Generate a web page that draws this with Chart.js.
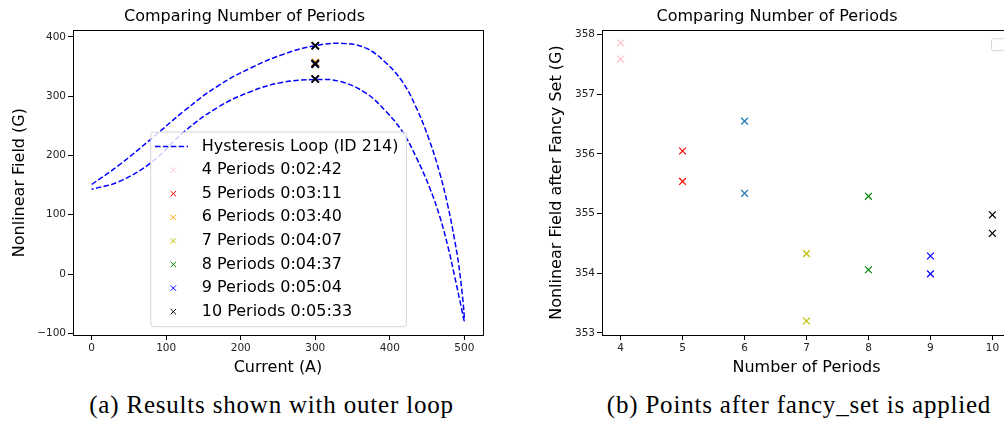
<!DOCTYPE html>
<html>
<head>
<meta charset="utf-8">
<title>Comparing Number of Periods</title>
<script src="https://cdn.jsdelivr.net/npm/chart.js@4.4.1/dist/chart.umd.min.js"></script>
<style>
  html, body { margin: 0; padding: 0; background: #fff; overflow: hidden; }
  body { width: 1004px; height: 424px; position: relative; }
  .panel { position: absolute; top: 0; height: 381px; }
  #left-panel { left: 0; width: 500px; }
  #right-panel { left: 530px; width: 490px; }
  .caption {
    position: absolute; top: 391px;
    font-family: 'Liberation Serif', serif; font-size: 25px; line-height: 28px;
    letter-spacing: 0.8px; text-align: center; color: #000; white-space: nowrap;
  }
</style>
</head>
<body>
<div class="panel" id="left-panel"><canvas id="loopChart"></canvas></div>
<div class="panel" id="right-panel"><canvas id="periodChart"></canvas></div>
<div class="caption" style="left:0;width:543px">(a) Results shown with outer loop</div>
<div class="caption" style="left:599px;width:400px">(b) Points after fancy_set is applied</div>

<script>
// hysteresis loop: up the outer branch to 500 A, back down the inner one
const loopCurrent = [0, 35, 80, 124, 169, 214, 258, 299, 337, 368, 395, 417, 435, 453, 467, 478, 487, 494, 500,
                     494, 487, 478, 467, 453, 435, 417, 395, 368, 333, 299, 255, 214, 169, 124, 80, 35, 0];
const loopField = [151, 182, 228, 275, 317, 348, 371, 385, 389, 381, 356, 324, 282, 226, 170, 114, 57, 1, -78,
                   -45, -4, 46, 97, 147, 198, 240, 274, 305, 325, 328, 323, 308, 281, 240, 188, 155, 143];

// runs
const periods = [4, 5, 6, 7, 8, 9, 10];
const runTimes = ['0:02:42', '0:03:11', '0:03:40', '0:04:07', '0:04:37', '0:05:04', '0:05:33'];
const fieldFirst = [357.86, 356.05, 356.55, 354.33, 355.29, 354.29, 354.98];
const fieldSecond = [357.59, 355.54, 355.34, 353.20, 354.06, 353.99, 354.67];
const outerCurrent = 300;
const outerField = [385, 329];

// tick labels
const currentTicks = [0, 100, 200, 300, 400, 500];
const loopFieldTicks = [-100, 0, 100, 200, 300, 400];
const periodTicks = [4, 5, 6, 7, 8, 9, 10];
const fancyFieldTicks = [353, 354, 355, 356, 357, 358];

const loopColors = ['#ffc0cb', '#ff0000', '#ffa500', '#bfbf00', '#008000', '#0000ff', '#000000'];
const periodColors = ['#ffc0cb', '#ff0000', '#1f77b4', '#bfbf00', '#008000', '#0000ff', '#000000'];

Chart.defaults.font.family = "'DejaVu Sans', sans-serif";
Chart.defaults.color = '#000';

// matplotlib style box around the plot area
const framePlugin = {
    id: 'frame',
    afterDraw(chart) {
        const { ctx, chartArea: a } = chart;
        ctx.save();
        ctx.strokeStyle = '#000';
        ctx.lineWidth = 1;
        ctx.strokeRect(Math.round(a.left) + 0.5, Math.round(a.top) + 0.5,
                       Math.round(a.right - a.left), Math.round(a.bottom - a.top));
        ctx.restore();
    }
};

function drawCross(ctx, x, y, r, color) {
    ctx.strokeStyle = color;
    ctx.lineWidth = 1;
    ctx.beginPath();
    ctx.moveTo(x - r, y - r); ctx.lineTo(x + r, y + r);
    ctx.moveTo(x - r, y + r); ctx.lineTo(x + r, y - r);
    ctx.stroke();
}

// semi transparent legend sitting inside the plot (like loc="best")
const loopLegendPlugin = {
    id: 'loopLegend',
    afterDatasetsDraw(chart) {
        const { ctx, chartArea: a } = chart;
        const rows = chart.data.datasets;
        ctx.save();
        ctx.font = "16px 'DejaVu Sans'";
        const textW = Math.max(...rows.map(d => ctx.measureText(d.label).width));
        const rowH = 23.6;
        const w = 51 + textW + 8;
        const h = 14.4 + (rows.length - 1) * rowH + 15;
        const x = a.left + 77.7;
        const y = a.bottom - 8.3 - h;

        ctx.beginPath();
        ctx.roundRect(x, y, w, h, 3);
        ctx.fillStyle = 'rgba(255,255,255,0.8)';
        ctx.fill();
        ctx.strokeStyle = 'rgba(204,204,204,0.8)';
        ctx.lineWidth = 1;
        ctx.stroke();

        rows.forEach((d, i) => {
            const cy = y + 14.4 + i * rowH;
            if (d.showLine) {
                ctx.strokeStyle = d.borderColor;
                ctx.lineWidth = d.borderWidth;
                ctx.setLineDash(d.borderDash);
                ctx.beginPath();
                ctx.moveTo(x + 4.3, cy);
                ctx.lineTo(x + 37.3, cy);
                ctx.stroke();
                ctx.setLineDash([]);
            } else {
                drawCross(ctx, x + 22.6, cy, 2.7, d.borderColor);
            }
            ctx.fillStyle = '#000';
            ctx.textBaseline = 'middle';
            ctx.fillText(d.label, x + 51, cy);
        });
        ctx.restore();
    }
};

// the right plot has an empty legend in its corner
const emptyLegendPlugin = {
    id: 'emptyLegend',
    afterDraw(chart) {
        const { ctx, chartArea: a } = chart;
        ctx.save();
        ctx.beginPath();
        ctx.roundRect(a.right - 19.5, a.top + 8.5, 14, 12, 2.5);
        ctx.fillStyle = 'rgba(255,255,255,0.8)';
        ctx.fill();
        ctx.strokeStyle = 'rgba(204,204,204,0.8)';
        ctx.stroke();
        ctx.restore();
    }
};

function makeAxis(min, max, tickValues, title, fit, fmt) {
    return {
        type: 'linear',
        min: min,
        max: max,
        afterBuildTicks: s => { s.ticks = tickValues.map(v => ({ value: v })); },
        afterFit: fit,
        grid: { drawOnChartArea: false, drawTicks: true, tickLength: 5, tickColor: '#000', color: '#000' },
        border: { display: false },
        ticks: {
            color: '#222', font: { size: 10.5 }, padding: 2, maxRotation: 0,
            callback: fmt || (v => String(v))
        },
        title: { display: true, text: title, color: '#000', font: { size: 16 }, padding: { top: 4, bottom: 4 } }
    };
}

function basePlugins() {
    return {
        legend: { display: false },
        tooltip: { enabled: false },
        title: {
            display: true, text: 'Comparing Number of Periods', color: '#000',
            font: { size: 16, weight: 'normal' }, padding: { top: 7, bottom: 4 }
        }
    };
}

// (a) loop with the outer loop markers
const loopDatasets = [{
    label: 'Hysteresis Loop (ID 214)',
    data: loopCurrent.map((c, i) => ({ x: c, y: loopField[i] })),
    showLine: true,
    borderColor: '#0000ff',
    borderWidth: 1.5,
    borderDash: [5.5, 2.4],
    pointRadius: 0,
    tension: 0.4,
    fill: false,
    order: periods.length + 1
}];
periods.forEach((p, i) => {
    loopDatasets.push({
        label: `${p} Periods ${runTimes[i]}`,
        data: [
            { x: outerCurrent, y: outerField[0] },
            { x: outerCurrent, y: fieldFirst[i] },
            { x: outerCurrent, y: fieldSecond[i] },
            { x: outerCurrent, y: outerField[1] }
        ],
        showLine: false,
        pointStyle: 'crossRot',
        pointRadius: 5,
        borderWidth: 1.5,
        borderColor: loopColors[i],
        backgroundColor: loopColors[i],
        order: periods.length - i
    });
});

new Chart(document.getElementById('loopChart'), {
    type: 'scatter',
    data: { datasets: loopDatasets },
    options: {
        responsive: true,
        maintainAspectRatio: false,
        animation: false,
        events: [],
        layout: { padding: { left: 6, right: 17, top: 0, bottom: 0 } },
        plugins: basePlugins(),
        scales: {
            x: makeAxis(-25, 525, currentTicks, 'Current (A)', s => { s.height = 46; }),
            y: makeAxis(-102.9, 411.3, loopFieldTicks, 'Nonlinear Field (G)', s => { s.width = 67; },
                        v => (v < 0 ? '\u2212' + Math.abs(v) : String(v)))
        }
    },
    plugins: [loopLegendPlugin, framePlugin]
});

// (b) field after fancy set for every run
const periodDatasets = periods.map((p, i) => ({
    label: `${p} Periods`,
    data: [{ x: p, y: fieldFirst[i] }, { x: p, y: fieldSecond[i] }],
    showLine: false,
    pointStyle: 'crossRot',
    pointRadius: 4.8,
    borderWidth: 1.2,
    borderColor: periodColors[i],
    backgroundColor: periodColors[i]
}));

new Chart(document.getElementById('periodChart'), {
    type: 'scatter',
    data: { datasets: periodDatasets },
    options: {
        responsive: true,
        maintainAspectRatio: false,
        animation: false,
        events: [],
        layout: { padding: { left: 13, right: 9, top: 0, bottom: 0 } },
        plugins: basePlugins(),
        scales: {
            x: makeAxis(3.7, 10.3, periodTicks, 'Number of Periods', s => { s.height = 46; }),
            y: makeAxis(352.966, 358.074, fancyFieldTicks, 'Nonlinear Field after Fancy Set (G)', s => { s.width = 59; })
        }
    },
    plugins: [emptyLegendPlugin, framePlugin]
});
</script>
</body>
</html>
